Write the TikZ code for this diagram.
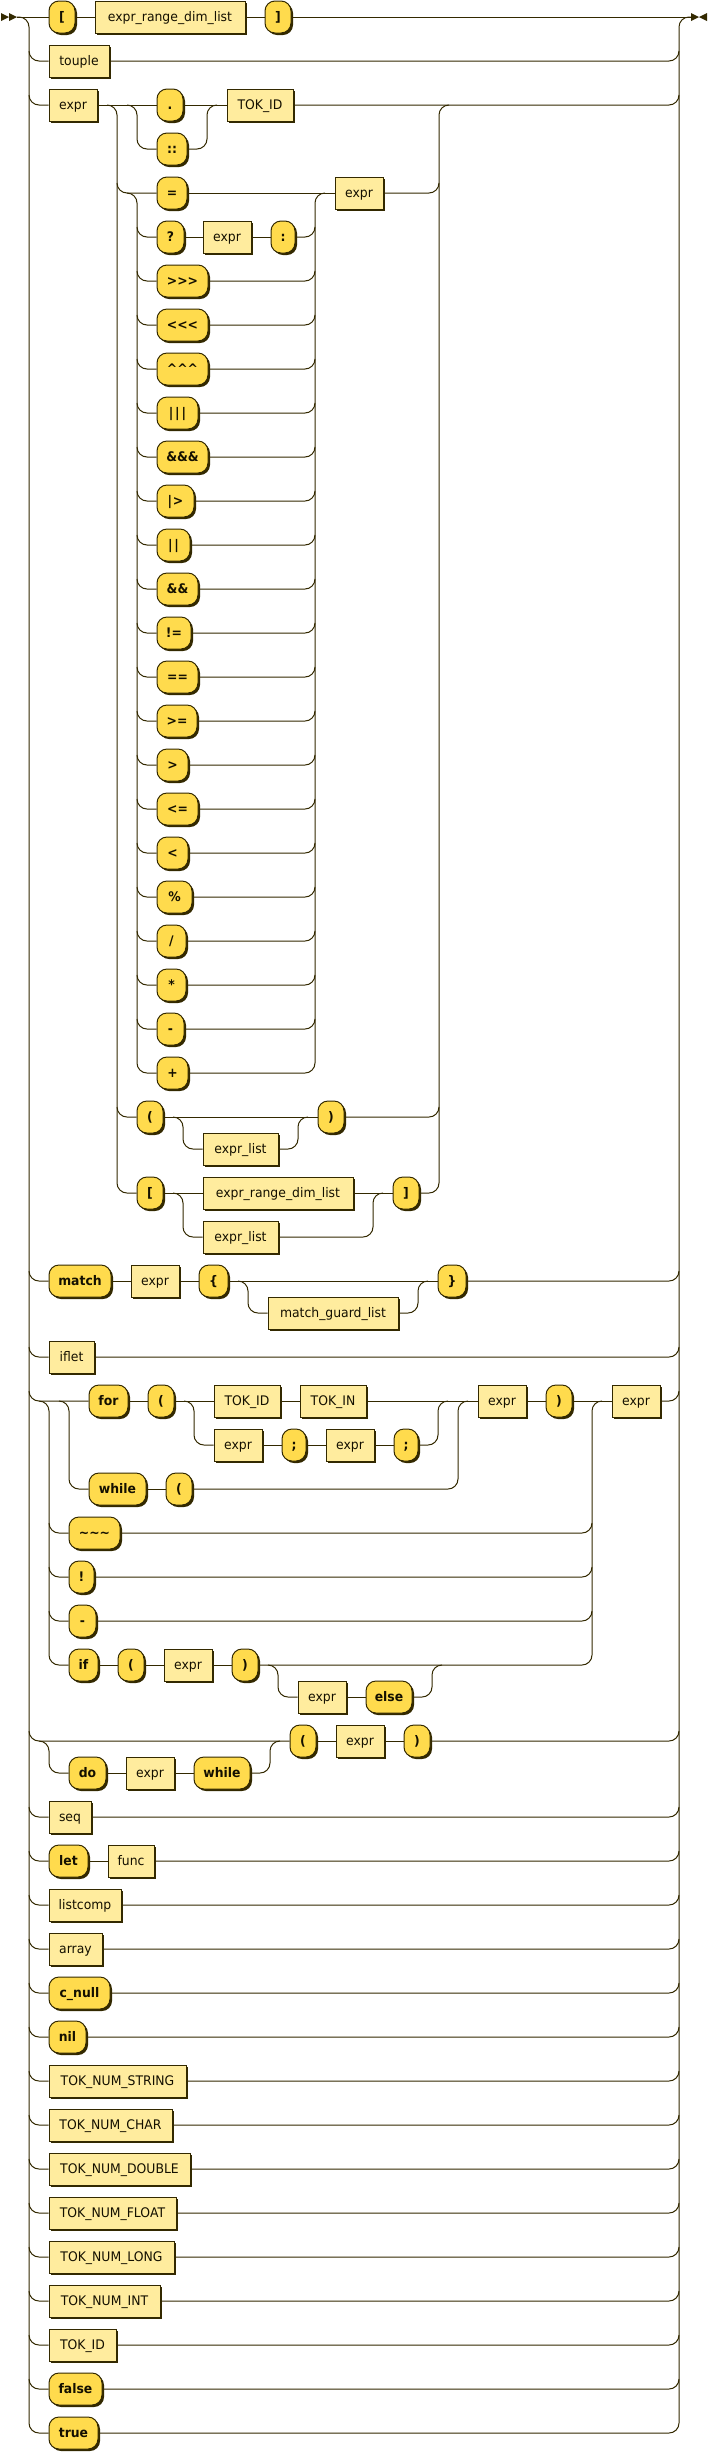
\documentclass[tikz,border=0pt]{standalone}
\usepackage{fontspec}
\newfontfamily\rrfont{DejaVu Sans}[FakeStretch=0.94]
\usetikzlibrary{shadows}
\definecolor{cLine}{HTML}{332900}
\definecolor{cTerm}{HTML}{FFDB4D}
\definecolor{cNont}{HTML}{FFEC9E}
\definecolor{cText}{HTML}{141000}
\tikzset{
 rrline/.style={draw=cLine, line width=1pt, rounded corners=10pt},
 rrbox/.style={draw=cLine, line width=1pt, minimum height=32pt, inner sep=0pt,
   text height=11pt, text depth=3pt, text=cText,
   drop shadow={shadow xshift=2pt, shadow yshift=-2pt, opacity=1, fill=cLine}},
 rrterm/.style={rrbox, fill=cTerm, rounded corners=10pt, font=\rrfont\fontsize{13.2}{15}\selectfont\bfseries},
 rrnont/.style={rrbox, fill=cNont, font=\rrfont\fontsize{13.2}{15}\selectfont},
}
\newcommand\RRt[5]{\node[rrterm, minimum width={(#3-#2)*1pt}] (#1) at ({(#2+#3)/2},#4) {#5};}
\newcommand\RRn[5]{\node[rrnont, minimum width={(#3-#2)*1pt}] (#1) at ({(#2+#3)/2},#4) {#5};}
\begin{document}
\begin{tikzpicture}[x=1pt,y=-1pt]
\useasboundingbox (0,0) rectangle (709,2453);
\fill[white] (0,0) rectangle (709,2453);
\coordinate (start) at (17,17);
\coordinate (end) at (691,17);
\coordinate (asplit) at (107,105);
\coordinate (csplit2) at (127,105);
\coordinate (opsplit) at (127,193);
\coordinate (bsplit) at (39,1401);
\coordinate (csplit) at (59,1401);
\coordinate (dsplit) at (39,1741);
\fill[cLine] (1,13) -- (9,17) -- (1,21) -- cycle;
\fill[cLine] (9,13) -- (17,17) -- (9,21) -- cycle;
\fill[cLine] (691,13) -- (699,17) -- (691,21) -- cycle;
\fill[cLine] (707,13) -- (699,17) -- (707,21) -- cycle;
% ---------- nodes
\RRt{lb1}{49}{75}{17}{[}
\RRn{erdl1}{95}{245}{17}{expr\_range\_dim\_list}
\RRt{rb1}{265}{291}{17}{]}
\RRn{touple}{49}{109}{61}{touple}
\RRn{ex1}{49}{97}{105}{expr}
\RRt{dot}{157}{183}{105}{.}
\RRt{dcol}{157}{187}{149}{::}
\RRn{tid1}{227}{293}{105}{TOK\_ID}
\RRt{eq}{157}{187}{193}{=}
\RRn{ex2}{335}{383}{193}{expr}
\RRt{qm}{157}{184}{237}{?}
\RRn{ex3}{203}{251}{237}{expr}
\RRt{col}{271}{295}{237}{:}
\RRt{op6}{157}{208}{281}{>>>}
\RRt{op7}{157}{208}{325}{<<<}
\RRt{op8}{157}{208}{369}{\textasciicircum\textasciicircum\textasciicircum}
\RRt{op9}{157}{198}{413}{|\kern1.8pt|\kern1.8pt|}
\RRt{op10}{157}{208}{457}{\&\&\&}
\RRt{op11}{157}{194}{501}{|\kern0.8pt>}
\RRt{op12}{157}{190}{545}{|\kern1.8pt|}
\RRt{op13}{157}{198}{589}{\&\&}
\RRt{op14}{157}{191}{633}{!=}
\RRt{op15}{157}{198}{677}{==}
\RRt{op16}{157}{197}{721}{>=}
\RRt{op17}{157}{188}{765}{>}
\RRt{op18}{157}{198}{809}{<=}
\RRt{op19}{157}{188}{853}{<}
\RRt{op20}{157}{192}{897}{\%}
\RRt{op21}{157}{186}{941}{/}
\RRt{op22}{157}{186}{985}{*}
\RRt{op23}{157}{184}{1029}{-}
\RRt{op24}{157}{188}{1073}{+}
\RRt{lp1}{137}{163}{1117}{(}
\RRn{el1}{203}{278}{1149}{expr\_list}
\RRt{rp1}{318}{344}{1117}{)}
\RRt{lb2}{137}{163}{1193}{[}
\RRn{erdl2}{203}{353}{1193}{expr\_range\_dim\_list}
\RRn{el2}{203}{278}{1237}{expr\_list}
\RRt{rb2}{393}{419}{1193}{]}
\RRt{match}{49}{111}{1281}{match}
\RRn{mex}{131}{179}{1281}{expr}
\RRt{lbr}{199}{228}{1281}{\{}
\RRn{mgl}{268}{398}{1313}{match\_guard\_list}
\RRt{rbr}{438}{466}{1281}{\}}
\RRn{iflet}{49}{94}{1357}{iflet}
\RRt{kfor}{89}{128}{1401}{for}
\RRt{lp2}{148}{174}{1401}{(}
\RRn{tid2}{214}{280}{1401}{TOK\_ID}
\RRn{tin}{300}{366}{1401}{TOK\_IN}
\RRn{fe1}{214}{262}{1445}{expr}
\RRt{sc1}{282}{306}{1445}{;}
\RRn{fe2}{326}{374}{1445}{expr}
\RRt{sc2}{394}{418}{1445}{;}
\RRn{fe3}{478}{526}{1401}{expr}
\RRt{rp2}{546}{572}{1401}{)}
\RRn{fe4}{612}{660}{1401}{expr}
\RRt{kwhile}{89}{146}{1489}{while}
\RRt{lp3}{166}{192}{1489}{(}
\RRt{tilde}{69}{120}{1533}{\textasciitilde\textasciitilde\textasciitilde}
\RRt{bang}{69}{94}{1577}{!}
\RRt{neg}{69}{96}{1621}{-}
\RRt{kif}{69}{98}{1665}{if}
\RRt{lp4}{118}{144}{1665}{(}
\RRn{ie1}{164}{212}{1665}{expr}
\RRt{rp3}{232}{258}{1665}{)}
\RRn{ie2}{298}{346}{1697}{expr}
\RRt{kelse}{366}{412}{1697}{else}
\RRt{lp5}{290}{316}{1741}{(}
\RRn{de2}{336}{384}{1741}{expr}
\RRt{rp5}{404}{430}{1741}{)}
\RRt{kdo}{69}{106}{1773}{do}
\RRn{de1}{126}{174}{1773}{expr}
\RRt{kwhile2}{194}{250}{1773}{while}
\RRn{seq}{49}{91}{1817}{seq}
\RRt{klet}{49}{88}{1861}{let}
\RRn{func}{108}{154}{1861}{func}
\RRn{listcomp}{49}{121}{1905}{listcomp}
\RRn{array}{49}{102}{1949}{array}
\RRt{cnull}{49}{110}{1993}{c\_null}
\RRt{nil}{49}{86}{2037}{nil}
\RRn{nstr}{49}{186}{2081}{TOK\_NUM\_STRING}
\RRn{nchar}{49}{172}{2125}{TOK\_NUM\_CHAR}
\RRn{ndbl}{49}{190}{2169}{TOK\_NUM\_DOUBLE}
\RRn{nflt}{49}{176}{2213}{TOK\_NUM\_FLOAT}
\RRn{nlong}{49}{174}{2257}{TOK\_NUM\_LONG}
\RRn{nint}{49}{160}{2301}{TOK\_NUM\_INT}
\RRn{tid3}{49}{116}{2345}{TOK\_ID}
\RRt{kfalse}{49}{102}{2389}{false}
\RRt{ktrue}{49}{98}{2433}{true}
% ---------- outer rails (drawn once)
\draw[rrline] (start) -| (29,2433) -- (ktrue.west);
\draw[rrline] (ktrue.east) -| (679,17) -- (end);
% ---------- row 0
\draw[rrline] (start) -- (lb1.west);
\draw[rrline] (lb1.east) -- (erdl1.west);
\draw[rrline] (erdl1.east) -- (rb1.west);
\draw[rrline] (rb1.east) -- (end);
% ---------- simple rows
\foreach \n/\y in {touple/61, iflet/1357, seq/1817, listcomp/1905, array/1949, cnull/1993, nil/2037, nstr/2081, nchar/2125, ndbl/2169, nflt/2213, nlong/2257, nint/2301, tid3/2345, kfalse/2389}{
  \draw[rrline] (29,\y-10) |- (\n.west);
  \draw[rrline] (\n.east) -| (679,\y-10);
}
\draw[rrline] (29,1851) |- (klet.west);
\draw[rrline] (klet.east) -- (func.west);
\draw[rrline] (func.east) -| (679,1851);
% ---------- expr row
\draw[rrline] (29,95) |- (ex1.west);
\draw[rrline] (ex1.east) -- (dot.west);
\draw[rrline] (csplit2) -| (137,149) -- (dcol.west);
\draw[rrline] (dot.east) -- (tid1.west);
\draw[rrline] (dcol.east) -| (207,105) -- (217,105);
\draw[rrline] (tid1.east) -| (679,95);
% big choice: left rail once
\draw[rrline] (asplit) -| (117,1193) -- (lb2.west);
\draw[rrline] (117,183) |- (eq.west);
\draw[rrline] (eq.east) -- (ex2.west);
% operator choice
\draw[rrline] (opsplit) -| (137,1073) -- (op24.west);
\draw[rrline] (op24.east) -| (315,193) -- (325,193);
\draw[rrline] (137,227) |- (qm.west);
\draw[rrline] (qm.east) -- (ex3.west);
\draw[rrline] (ex3.east) -- (col.west);
\draw[rrline] (col.east) -| (315,227);
\foreach \k/\y in {6/281,7/325,8/369,9/413,10/457,11/501,12/545,13/589,14/633,15/677,16/721,17/765,18/809,19/853,20/897,21/941,22/985,23/1029}{
  \draw[rrline] (137,\y-10) |- (op\k.west);
  \draw[rrline] (op\k.east) -| (315,\y-10);
}
% big choice: right rail once
\draw[rrline] (rb2.east) -| (439,105) -- (449,105);
\draw[rrline] (ex2.east) -| (439,183);
% ( expr_list )
\draw[rrline] (117,1107) |- (lp1.west);
\draw[rrline] (lp1.east) -- (rp1.west);
\draw[rrline] (173,1117) -| (183,1149) -- (el1.west);
\draw[rrline] (el1.east) -| (298,1117) -- (308,1117);
\draw[rrline] (rp1.east) -| (439,1107);
% [ ... ]
\draw[rrline] (lb2.east) -- (erdl2.west);
\draw[rrline] (173,1193) -| (183,1237) -- (el2.west);
\draw[rrline] (erdl2.east) -- (rb2.west);
\draw[rrline] (el2.east) -| (373,1193) -- (383,1193);
% ---------- match
\draw[rrline] (29,1271) |- (match.west);
\draw[rrline] (match.east) -- (mex.west);
\draw[rrline] (mex.east) -- (lbr.west);
\draw[rrline] (lbr.east) -- (rbr.west);
\draw[rrline] (238,1281) -| (248,1313) -- (mgl.west);
\draw[rrline] (mgl.east) -| (418,1281) -- (428,1281);
\draw[rrline] (rbr.east) -| (679,1271);
% ---------- for / while / unary / if
\draw[rrline] (29,1391) |- (kfor.west);
\draw[rrline] (csplit) -| (69,1489) -- (kwhile.west);
\draw[rrline] (kfor.east) -- (lp2.west);
\draw[rrline] (lp2.east) -- (tid2.west);
\draw[rrline] (tid2.east) -- (tin.west);
\draw[rrline] (tin.east) -- (fe3.west);
\draw[rrline] (184,1401) -| (194,1445) -- (fe1.west);
\draw[rrline] (fe1.east) -- (sc1.west);
\draw[rrline] (sc1.east) -- (fe2.west);
\draw[rrline] (fe2.east) -- (sc2.west);
\draw[rrline] (sc2.east) -| (438,1401) -- (448,1401);
\draw[rrline] (kwhile.east) -- (lp3.west);
\draw[rrline] (lp3.east) -| (458,1401) -- (468,1401);
\draw[rrline] (fe3.east) -- (rp2.west);
\draw[rrline] (rp2.east) -- (fe4.west);
\draw[rrline] (fe4.east) -| (679,1391);
\draw[rrline] (bsplit) -| (49,1665) -- (kif.west);
\draw[rrline] (rp3.east) -| (592,1401) -- (602,1401);
\foreach \n/\y in {tilde/1533, bang/1577, neg/1621}{
  \draw[rrline] (49,\y-10) |- (\n.west);
  \draw[rrline] (\n.east) -| (592,\y-10);
}
\draw[rrline] (kif.east) -- (lp4.west);
\draw[rrline] (lp4.east) -- (ie1.west);
\draw[rrline] (ie1.east) -- (rp3.west);
\draw[rrline] (268,1665) -| (278,1697) -- (ie2.west);
\draw[rrline] (ie2.east) -- (kelse.west);
\draw[rrline] (kelse.east) -| (432,1665) -- (442,1665);
% ---------- do while
\draw[rrline] (29,1731) |- (lp5.west);
\draw[rrline] (dsplit) -| (49,1773) -- (kdo.west);
\draw[rrline] (kdo.east) -- (de1.west);
\draw[rrline] (de1.east) -- (kwhile2.west);
\draw[rrline] (kwhile2.east) -| (270,1741) -- (280,1741);
\draw[rrline] (lp5.east) -- (de2.west);
\draw[rrline] (de2.east) -- (rp5.west);
\draw[rrline] (rp5.east) -| (679,1731);
\end{tikzpicture}
\end{document}
